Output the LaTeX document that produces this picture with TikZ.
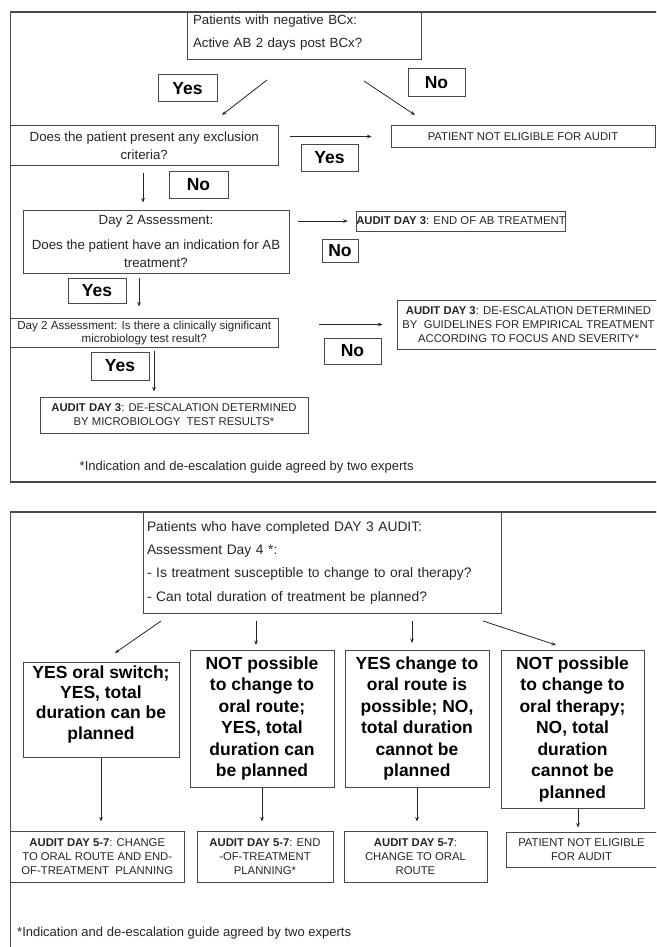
\documentclass[tikz,border=0pt]{standalone}
\usepackage{fontspec}
\setmainfont{Liberation Sans}
\usetikzlibrary{arrows.meta}
\definecolor{linegray}{RGB}{72,72,72}
\newcommand{\lowpad}[1]{\rule[-#1]{0pt}{#1}}

\begin{document}
\begin{tikzpicture}[x=1pt,y=-1pt,
  box/.style={draw=linegray,line width=1pt,inner sep=0pt,align=center,text=black!85,
    font=\fontsize{13.3}{17.5}\selectfont},
  capbox/.style={box,font=\fontsize{11.3}{13.8}\selectfont},
  bigbox/.style={box,text=black,font=\fontsize{17.5}{21.5}\selectfont\bfseries},
  answer/.style={draw=linegray,line width=1pt,inner sep=0pt,font=\fontsize{17.5}{20}\selectfont\bfseries},
  arr/.style={-{Stealth[length=4.5pt,width=3.6pt]},line width=0.8pt,draw=black!85},
  frame/.style={draw=linegray,line width=1.2pt}]

\useasboundingbox (0,0) rectangle (656,947);
\clip (0,0) rectangle (656,947);
\fill[white] (0,0) rectangle (656,947);

% ===== PART 1: DAY 3 AUDIT =====
\draw[frame] (10.5,12) rectangle (700,482);

\node[box,align=left,minimum width=234pt,minimum height=48pt,text width=222pt] (start) at (304,36)
  {Patients with negative BCx:\\[5.5pt]Active AB 2 days post BCx?\lowpad{10pt}};
\node[answer,minimum width=59pt,minimum height=27pt] (yes1) at (187.5,88.5) {Yes};
\node[answer,minimum width=57pt,minimum height=28pt] (no1) at (436.5,83) {No};
\coordinate (ys) at (267,80);
\coordinate (ye) at (222,115);
\coordinate (ns) at (364,81);
\coordinate (ne) at (415,115);
\draw[arr] (ys) -- (ye);
\draw[arr] (ns) -- (ne);

% exclusion criteria
\node[box,font=\fontsize{13.3}{18}\selectfont,minimum width=267.5pt,minimum height=39pt] (excl) at (144.25,145.5)
  {Does the patient present any exclusion\\criteria?};
\node[capbox,minimum width=264pt,minimum height=21pt] (noelig) at (523,136.5) {PATIENT NOT ELIGIBLE FOR AUDIT};
\draw[arr,shorten <=11pt,shorten >=19pt] (excl.east |- noelig.west) -- (noelig.west);
\node[answer,minimum width=57pt,minimum height=27pt] (yes2) at (329.5,157.5) {Yes};
\node[answer,minimum width=59pt,minimum height=27pt] (no2) at (198.5,184.5) {No};

% day 2 indication
\node[box,minimum width=266pt,minimum height=63pt] (day2) at (156,241.5)
  {Day 2 Assessment:\\[7.5pt]Does the patient have an indication for AB\\treatment?};
\draw[arr,shorten <=7pt,shorten >=7pt] (excl.south -| 143,0) -- (day2.north -| 143,0);
\node[capbox,minimum width=186pt,minimum height=20pt] (end3) at (461,221) {\textbf{AUDIT DAY 3}: END OF AB TREATMENT};
\draw[arr,shorten <=8pt,shorten >=8pt] (day2.east |- end3.west) -- (end3.west);
\node[answer,minimum width=36pt,minimum height=23pt] (no3) at (340,250.5) {No};
\node[answer,minimum width=58pt,minimum height=25pt] (yes3) at (97,290.5) {Yes};

% day 2 microbiology
\node[box,font=\fontsize{11.6}{13}\selectfont,minimum width=267.5pt,minimum height=29pt] (micq) at (144.25,332.5)
  {Day 2 Assessment: Is there a clinically significant\\microbiology test result?};
\draw[arr,shorten <=4pt,shorten >=11pt] (day2.south -| 139,0) -- (micq.north -| 139,0);
\node[capbox,minimum width=263pt,minimum height=49pt] (deesc) at (528.5,324.5)
  {\textbf{AUDIT DAY 3}: DE-ESCALATION DETERMINED\\BY~ GUIDELINES FOR EMPIRICAL TREATMENT\\ACCORDING TO FOCUS AND SEVERITY*};
\draw[arr,shorten <=40pt,shorten >=14pt] (micq.east |- deesc.west) -- (deesc.west);
\node[answer,minimum width=57pt,minimum height=26pt] (no4) at (352.5,351) {No};
\node[answer,minimum width=58pt,minimum height=28pt] (yes4) at (120,366) {Yes};
\node[capbox,minimum width=268pt,minimum height=36pt] (micres) at (174,415)
  {\textbf{AUDIT DAY 3}: DE-ESCALATION DETERMINED\\BY MICROBIOLOGY~ TEST RESULTS*};
\draw[arr,shorten <=3pt,shorten >=5pt] (micq.south -| 154,0) -- (micres.north -| 154,0);

\node[anchor=west,inner sep=0pt,text=black!85,font=\fontsize{13}{15}\selectfont] (note1) at (79.5,467)
  {*Indication and de-escalation guide agreed by two experts};

% ===== PART 2: DAY 4 ASSESSMENT =====
\draw[frame] (10.5,512) rectangle (700,1000);

\node[box,align=left,font=\fontsize{13.8}{23.3}\selectfont,minimum width=358pt,minimum height=101pt,text width=350pt] (day4) at (322,562.5)
  {Patients who have completed DAY 3 AUDIT:\\Assessment Day 4 *:\\- Is treatment susceptible to change to oral therapy?\\- Can total duration of treatment be planned?};

\node[bigbox,font=\fontsize{17.5}{20.3}\selectfont\bfseries,minimum width=156pt,minimum height=95pt] (opt1) at (101,709.5)
  {YES oral switch;\\YES, total\\duration can be\\planned\lowpad{14pt}};
\node[bigbox,minimum width=144pt,minimum height=137pt] (opt2) at (262,718.5)
  {NOT possible\\to change to\\oral route;\\YES, total\\duration can\\be planned};
\node[bigbox,minimum width=144pt,minimum height=137pt] (opt3) at (417,718.5)
  {YES change to\\oral route is\\possible; NO,\\total duration\\cannot be\\planned};
\node[bigbox,minimum width=143pt,minimum height=158pt] (opt4) at (572.5,729)
  {NOT possible\\to change to\\oral therapy;\\NO, total\\duration\\cannot be\\planned};

% fan of arrows below day 4 box
\foreach \sx/\ex/\ey [count=\i] in {161/115/653, 256/256/645, 412/412/643, 483/556/645}{
  \coordinate (fs\i) at (\sx,621);
  \coordinate (fe\i) at (\ex,\ey);
  \draw[arr] (fs\i) -- (fe\i);
}

\node[capbox,minimum width=173.5pt,minimum height=51pt] (aud1) at (97.25,856.5)
  {\textbf{AUDIT DAY 5-7}: CHANGE\\TO ORAL ROUTE AND END-\\OF-TREATMENT~ PLANNING};
\node[capbox,minimum width=136pt,minimum height=51pt] (aud2) at (265,856.5)
  {\textbf{AUDIT DAY 5-7}: END\\-OF-TREATMENT\\PLANNING*};
\node[capbox,minimum width=143pt,minimum height=51pt] (aud3) at (415.5,856.5)
  {\textbf{AUDIT DAY 5-7}:\\CHANGE TO ORAL\\ROUTE};
\node[capbox,minimum width=151pt,minimum height=35pt] (aud4) at (581.5,849.5)
  {PATIENT NOT ELIGIBLE\\FOR AUDIT};

\foreach \i in {1,2,3}{
  \draw[arr,shorten >=9pt] (opt\i.south) -- (opt\i.south |- aud\i.north);
}
\draw[arr,shorten >=4pt] (opt4.south -| 578,0) -- (aud4.north -| 578,0);

\node[anchor=west,inner sep=0pt,text=black!85,font=\fontsize{13}{15}\selectfont] (note2) at (17,933)
  {*Indication and de-escalation guide agreed by two experts};

\end{tikzpicture}
\end{document}
